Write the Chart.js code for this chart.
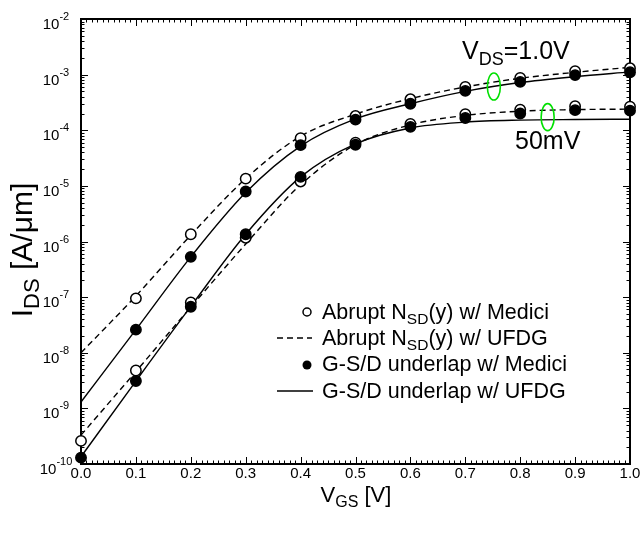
<!DOCTYPE html>
<html>
<head>
<meta charset="utf-8">
<script src="https://cdn.jsdelivr.net/npm/chart.js@4"></script>
<style>
  html, body { margin: 0; padding: 0; background: #fff; }
  #wrap { width: 642px; height: 533px; }
</style>
</head>
<body>
<div id="wrap"><canvas id="chart" width="642" height="533"></canvas></div>
<script>
// gate voltage steps (V)
const vgs = [0.0, 0.1, 0.2, 0.3, 0.4, 0.5, 0.6, 0.7, 0.8, 0.9, 1.0];

// Medici points, A/um
const abruptMedici1V = [null, 9.5e-8, 1.35e-6, 1.35e-5, 7.2e-5, 1.8e-4, 3.6e-4, 6.0e-4, 8.7e-4, 1.15e-3, 1.3e-3];
const underlapMedici1V = [null, 2.6e-8, 5.3e-7, 7.9e-6, 5.4e-5, 1.55e-4, 3.0e-4, 5.1e-4, 7.4e-4, 9.8e-4, 1.1e-3];
const abruptMedici50mV = [2.6e-10, 4.8e-9, 8.0e-8, 1.17e-6, 1.2e-5, 6.0e-5, 1.3e-4, 1.95e-4, 2.35e-4, 2.7e-4, 2.65e-4];
const underlapMedici50mV = [1.3e-10, 3.1e-9, 6.7e-8, 1.35e-6, 1.45e-5, 5.5e-5, 1.15e-4, 1.66e-4, 2.0e-4, 2.3e-4, 2.25e-4];

// UFDG model curves, A/um
const abruptUfdg1V = [1.0e-8, 1.05e-7, 1.3e-6, 1.35e-5, 7.8e-5, 1.95e-4, 3.7e-4, 6.0e-4, 8.6e-4, 1.1e-3, 1.35e-3];
const underlapUfdg1V = [1.3e-9, 2.6e-8, 5.3e-7, 7.6e-6, 5.2e-5, 1.6e-4, 3.0e-4, 5.0e-4, 7.2e-4, 9.2e-4, 1.12e-3];
const abruptUfdg50mV = [3.3e-10, 4.6e-9, 6.6e-8, 9.0e-7, 1.05e-5, 5.5e-5, 1.25e-4, 1.85e-4, 2.2e-4, 2.35e-4, 2.4e-4];
const underlapUfdg50mV = [1.35e-10, 3.1e-9, 6.8e-8, 1.35e-6, 1.45e-5, 5.7e-5, 1.1e-4, 1.4e-4, 1.52e-4, 1.56e-4, 1.58e-4];

// axes
const xTicks = [0.0, 0.1, 0.2, 0.3, 0.4, 0.5, 0.6, 0.7, 0.8, 0.9, 1.0];
const xTickLabels = ['0.0', '0.1', '0.2', '0.3', '0.4', '0.5', '0.6', '0.7', '0.8', '0.9', '1.0'];
const yExponents = [-10, -9, -8, -7, -6, -5, -4, -3, -2];

// legend + annotations
const legendLabels = [
  [['Abrupt N', 0], ['SD', 1], ['(y) w/ Medici', 0]],
  [['Abrupt N', 0], ['SD', 1], ['(y) w/ UFDG', 0]],
  [['G-S/D underlap w/ Medici', 0]],
  [['G-S/D underlap w/ UFDG', 0]]
];
const vdsLabel = [['V', 0], ['DS', 1], ['=1.0V', 0]];
const lowVdsLabel = '50mV';
// marker ellipses (vgs, current)
const ellipseMarks = [[0.752, 6.1e-4], [0.85, 1.72e-4]];

const FONT = '"Liberation Sans", Arial, Helvetica, sans-serif';

function toPoints(ys) {
  const pts = [];
  ys.forEach((y, i) => { if (y !== null) pts.push({ x: vgs[i], y: y }); });
  return pts;
}

function richText(ctx, parts, x, y, align, size, subSize, subDy) {
  let w = 0;
  parts.forEach(p => {
    ctx.font = (p[1] ? subSize : size) + 'px ' + FONT;
    w += ctx.measureText(p[0]).width;
  });
  let cx = align === 'center' ? x - w / 2 : (align === 'right' ? x - w : x);
  ctx.textAlign = 'left';
  ctx.textBaseline = 'alphabetic';
  parts.forEach(p => {
    ctx.font = (p[1] ? subSize : size) + 'px ' + FONT;
    ctx.fillText(p[0], cx, y + (p[1] ? subDy : 0));
    cx += ctx.measureText(p[0]).width;
  });
}

const framePlugin = {
  id: 'frame',
  beforeDatasetsDraw(chart) {
    const ctx = chart.ctx;
    const a = chart.chartArea;
    const xs = chart.scales.x, ys = chart.scales.y;
    ctx.save();
    ctx.strokeStyle = '#000';
    ctx.lineWidth = 1;
    ctx.beginPath();
    // x ticks: major every 0.1, minor every 0.01
    for (let i = 0; i <= 100; i++) {
      const px = Math.round(xs.getPixelForValue(i / 100)) + 0.5;
      const len = i % 10 === 0 ? 7 : 3.5;
      ctx.moveTo(px, a.bottom); ctx.lineTo(px, a.bottom - len);
      ctx.moveTo(px, a.top); ctx.lineTo(px, a.top + len);
    }
    // y ticks: decades + 2..9
    for (let e = -10; e <= -2; e++) {
      for (let m = 1; m <= 9; m++) {
        if (e === -2 && m > 1) break;
        const py = Math.round(ys.getPixelForValue(m * Math.pow(10, e))) + 0.5;
        const len = m === 1 ? 7 : 3.5;
        ctx.moveTo(a.left, py); ctx.lineTo(a.left + len, py);
        ctx.moveTo(a.right, py); ctx.lineTo(a.right - len, py);
      }
    }
    ctx.stroke();
    ctx.lineWidth = 2;
    ctx.strokeRect(a.left, a.top, a.right - a.left, a.bottom - a.top);
    ctx.restore();
  },
  afterDraw(chart) {
    const ctx = chart.ctx;
    const a = chart.chartArea;
    const xs = chart.scales.x, ys = chart.scales.y;
    ctx.save();
    ctx.fillStyle = '#000';

    // tick labels
    xTicks.forEach((v, i) => {
      richText(ctx, [[xTickLabels[i], 0]], xs.getPixelForValue(v), a.bottom + 14, 'center', 15, 15, 0);
    });
    yExponents.forEach(e => {
      const py = ys.getPixelForValue(Math.pow(10, e));
      ctx.font = '15px ' + FONT;
      const w1 = ctx.measureText('10').width;
      ctx.font = '11px ' + FONT;
      const w2 = ctx.measureText(String(e)).width;
      const x0 = 56 - (w1 + w2) / 2;
      ctx.font = '15px ' + FONT;
      ctx.fillText('10', x0, py + 10);
      ctx.font = '11px ' + FONT;
      ctx.fillText(String(e), x0 + w1, py + 1);
    });

    // axis titles
    richText(ctx, [['V', 0], ['GS', 1], [' [V]', 0]], 356, 502, 'center', 22, 16, 5);
    ctx.save();
    ctx.translate(22, 250);
    ctx.rotate(-Math.PI / 2);
    richText(ctx, [['I', 0], ['DS', 1], [' [A/\u03bcm]', 0]], 0, 10, 'center', 30, 22, 7);
    ctx.restore();

    // legend
    const lx = 322, rowY = [311, 337, 363, 390];
    legendLabels.forEach((parts, i) => {
      richText(ctx, parts, lx, rowY[i] + 7.5, 'left', 21.5, 15.5, 5);
    });
    ctx.lineWidth = 1.5;
    ctx.strokeStyle = '#000';
    ctx.beginPath(); ctx.arc(307, rowY[0] + 1, 4, 0, Math.PI * 2);
    ctx.fillStyle = '#fff'; ctx.fill(); ctx.stroke();
    ctx.fillStyle = '#000';
    ctx.beginPath(); ctx.arc(307, rowY[2] + 2, 4.5, 0, Math.PI * 2); ctx.fill();
    ctx.lineWidth = 1.3;
    ctx.setLineDash([6, 4]);
    ctx.beginPath(); ctx.moveTo(277, rowY[1] + 1); ctx.lineTo(312, rowY[1] + 1); ctx.stroke();
    ctx.setLineDash([]);
    ctx.beginPath(); ctx.moveTo(277, rowY[3] + 1); ctx.lineTo(313, rowY[3] + 1); ctx.stroke();

    // annotations
    richText(ctx, vdsLabel, 462, 59, 'left', 25, 18, 6);
    richText(ctx, [[lowVdsLabel, 0]], 515, 149, 'left', 25, 18, 0);
    ctx.strokeStyle = '#00e000';
    ctx.lineWidth = 1.6;
    ellipseMarks.forEach(m => {
      ctx.beginPath();
      ctx.ellipse(xs.getPixelForValue(m[0]), ys.getPixelForValue(m[1]), 6.5, 13.5, 0, 0, Math.PI * 2);
      ctx.stroke();
    });
    ctx.restore();
  }
};

function lineSet(label, ys, dashed) {
  return {
    label: label, data: toPoints(ys), showLine: true,
    borderColor: '#000', borderWidth: 1.4, borderDash: dashed ? [6, 4] : [],
    pointRadius: 0, cubicInterpolationMode: 'monotone', fill: false, order: 3, clip: false
  };
}
function pointSet(label, ys, filled) {
  return {
    label: label, data: toPoints(ys), showLine: false,
    pointStyle: 'circle', pointRadius: 5.2, pointBorderWidth: 1.5,
    pointBorderColor: '#000', pointBackgroundColor: filled ? '#000' : '#fff',
    order: filled ? 0 : 1, clip: false
  };
}

new Chart(document.getElementById('chart'), {
  type: 'scatter',
  data: {
    datasets: [
      pointSet('G-S/D underlap w/ Medici 1.0V', underlapMedici1V, true),
      pointSet('G-S/D underlap w/ Medici 50mV', underlapMedici50mV, true),
      pointSet('Abrupt w/ Medici 1.0V', abruptMedici1V, false),
      pointSet('Abrupt w/ Medici 50mV', abruptMedici50mV, false),
      lineSet('Abrupt w/ UFDG 1.0V', abruptUfdg1V, true),
      lineSet('Abrupt w/ UFDG 50mV', abruptUfdg50mV, true),
      lineSet('G-S/D underlap w/ UFDG 1.0V', underlapUfdg1V, false),
      lineSet('G-S/D underlap w/ UFDG 50mV', underlapUfdg50mV, false)
    ]
  },
  options: {
    responsive: false,
    animation: false,
    devicePixelRatio: 1,
    layout: { padding: { left: 81, top: 19, right: 12, bottom: 69 } },
    plugins: { legend: { display: false }, tooltip: { enabled: false } },
    scales: {
      x: { type: 'linear', min: 0, max: 1, display: false },
      y: { type: 'logarithmic', min: 1e-10, max: 1e-2, display: false }
    }
  },
  plugins: [framePlugin]
});
</script>
</body>
</html>
